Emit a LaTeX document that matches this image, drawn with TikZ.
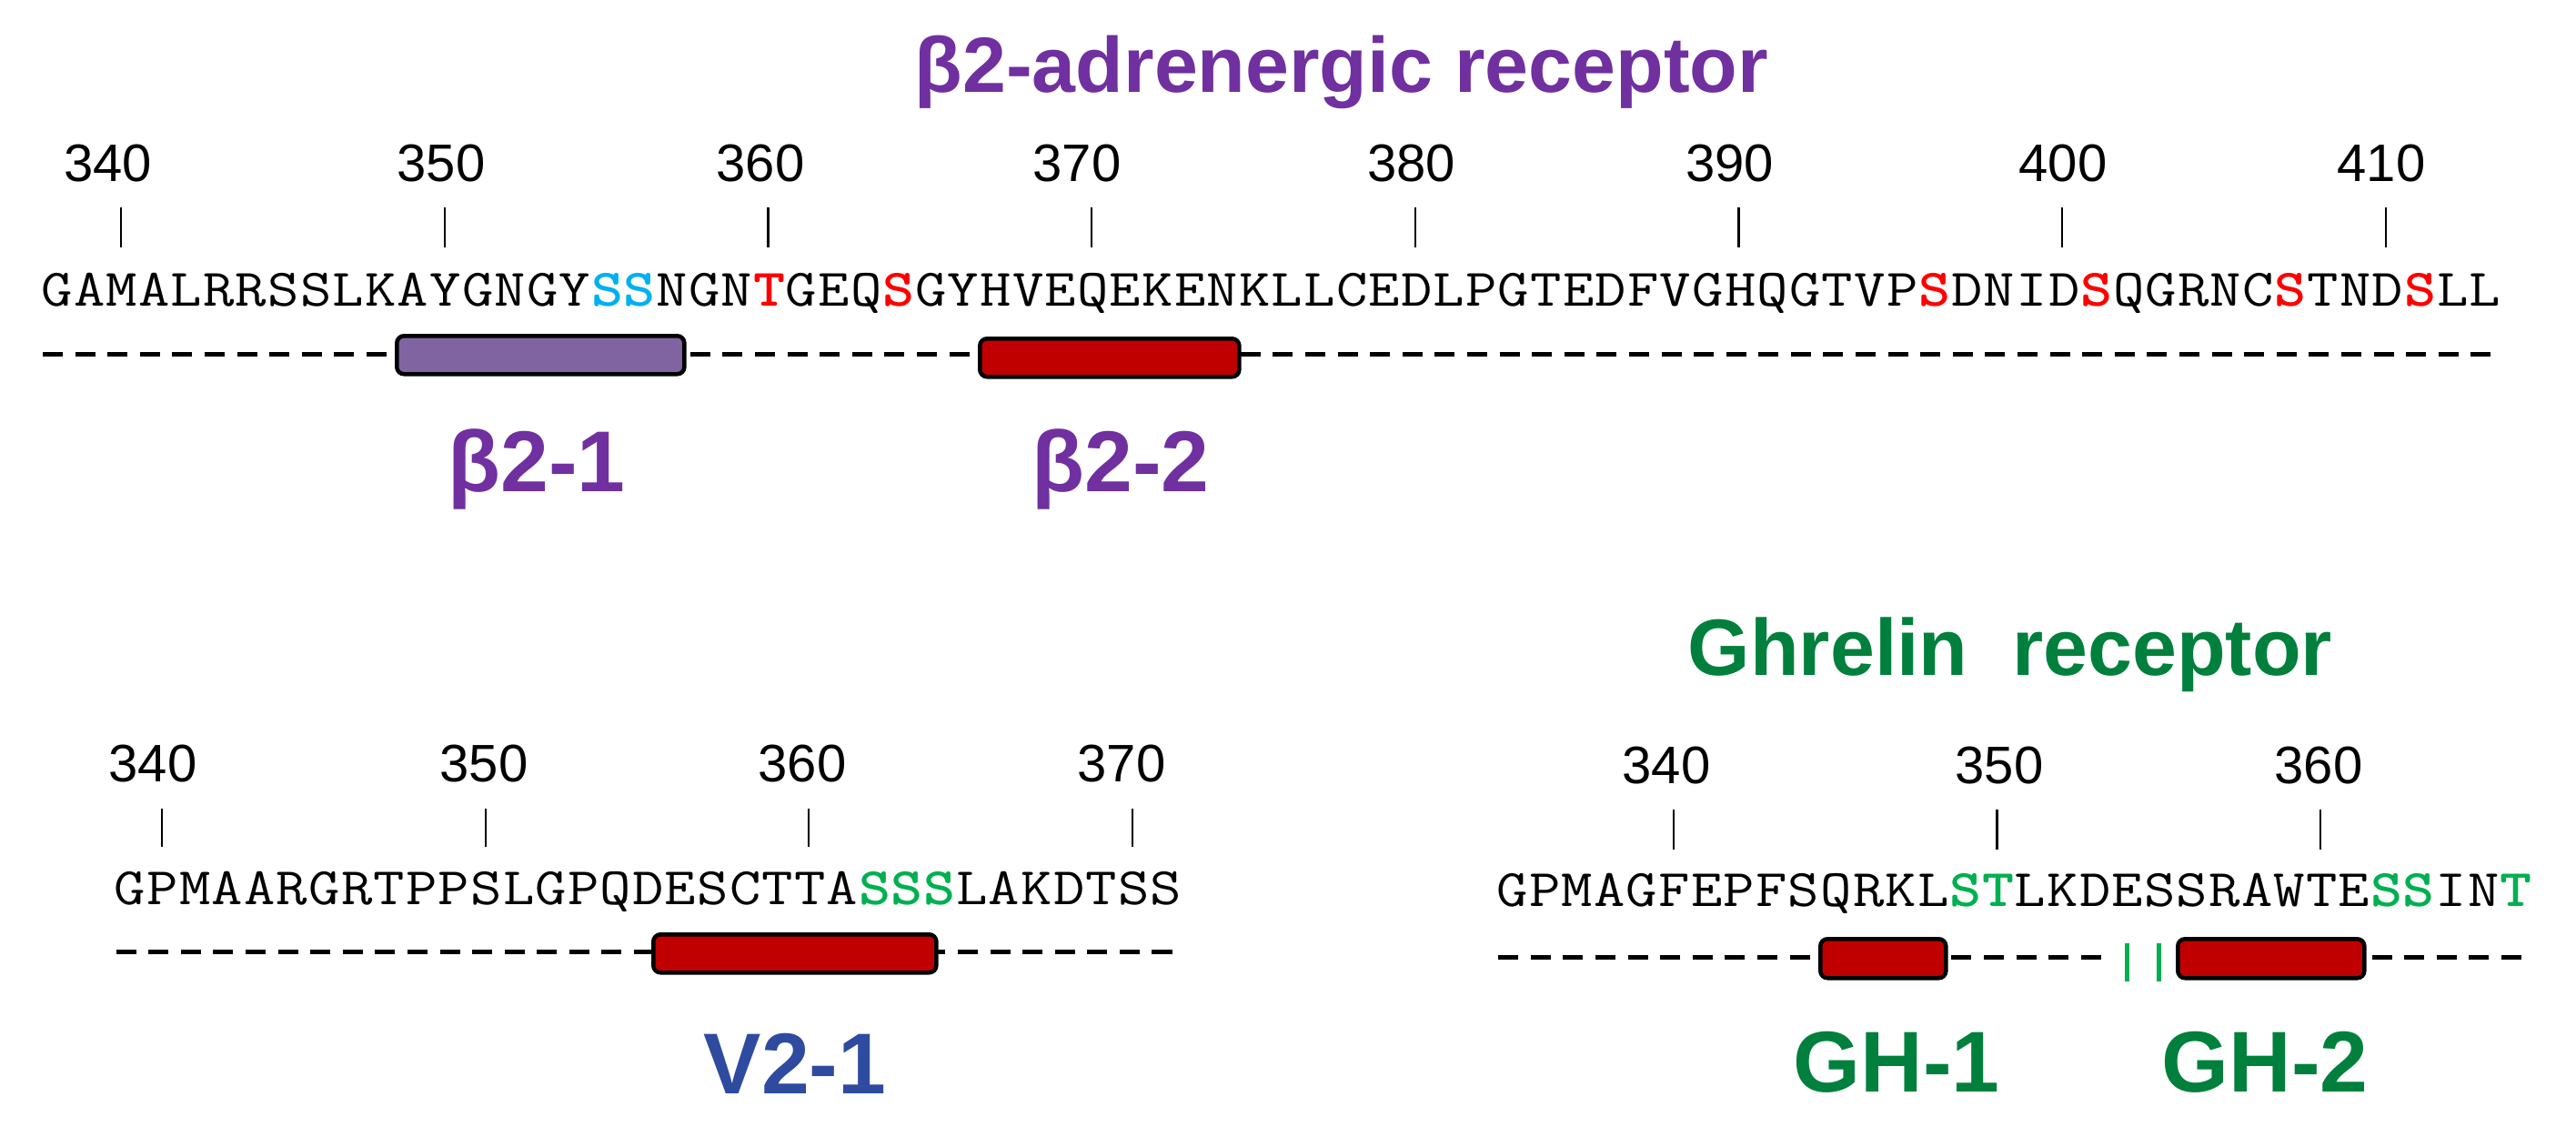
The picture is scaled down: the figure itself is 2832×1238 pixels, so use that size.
\documentclass[tikz,border=0pt]{standalone}
\usepackage{fontspec}
\setmainfont{Liberation Sans}
\usepackage{xcolor}
\usepackage{graphicx}
\definecolor{titlepurple}{HTML}{7030A0}
\definecolor{boxpurple}{HTML}{8064A2}
\definecolor{boxred}{HTML}{C00000}
\definecolor{seqred}{HTML}{FF0000}
\definecolor{seqcyan}{HTML}{00B0F0}
\definecolor{seqgreen}{HTML}{00B050}
\definecolor{ghgreen}{HTML}{00803C}
\definecolor{vblue}{HTML}{2E4B9F}
\newlength\cw
\setlength\cw{0.3557cm}
\def\seqrun#1{\seqstep#1\relax}
\def\seqstep#1{\ifx#1\relax\else\makebox[\cw]{\scalebox{1.15}[1]{#1}}\expandafter\seqstep\fi}
\newcommand\redS{\textcolor{seqred}{\bfseries S}}
\newcommand\redT{\textcolor{seqred}{\bfseries T}}
\newcommand\cyaS{\textcolor{seqcyan}{\bfseries S}}
\newcommand\grnS{\textcolor{seqgreen}{\bfseries S}}
\newcommand\grnT{\textcolor{seqgreen}{\bfseries T}}
\tikzset{
  seqtext/.style={inner sep=0pt, anchor=base west, font=\ttfamily\fontsize{16.5}{19}\selectfont},
  numlabel/.style={inner sep=0pt, anchor=base, font=\fontsize{16.5}{20}\selectfont},
  biglabel/.style={inner sep=0pt, anchor=base, font=\bfseries\fontsize{27}{32}\selectfont},
  titlelabel/.style={inner sep=0pt, anchor=base, font=\bfseries\fontsize{24.5}{30}\selectfont},
  tickline/.style={line width=0.022cm},
  dashline/.style={line width=0.05cm, dash pattern=on 0.22cm off 0.1357cm},
  domainbox/.style={draw=black, line width=0.045cm, rounded corners=0.08cm, inner sep=0pt, anchor=north west},
  gbar/.style={draw=seqgreen, line width=0.05cm}
}
\begin{document}
\begin{tikzpicture}[x=0.01cm,y=-0.01cm]
\useasboundingbox (0,0) rectangle (2832,1238);

% ---------- beta2-adrenergic receptor ----------
\node[titlelabel, text=titlepurple] (titleB) at (1475,101) {β2-adrenergic receptor};
\foreach \k/\lx/\lab in {0/118.6/340,1/485/350,2/836/360,3/1184/370,4/1551.5/380,5/1901.5/390,6/2268/400,7/2618/410}{
  \node[numlabel] (tb\k) at (\lx,199) {\lab};
  \draw[tickline] ({44.1+(2.5+10*\k)*35.57},228) -- ++(0,44);
}
\node[seqtext] (seqB) at (44.1,336) {\seqrun{GAMALRRSSLKAYGNGY\cyaS\cyaS NGN\redT GEQ\redS GYHVEQEKENKLLCEDLPGTEDFVGHQGTVP\redS DNID\redS QGRNC\redS TND\redS LL}};
\coordinate (dB1) at (47,389);
\coordinate (dB2) at (2742,389);
\draw[dashline] (dB1) -- (dB2);
\node[domainbox, fill=boxpurple, minimum width=3.16cm, minimum height=0.42cm] (boxB1) at (434,367) {};
\node[domainbox, fill=boxred, minimum width=2.85cm, minimum height=0.42cm] (boxB2) at (1075,370) {};
\node[biglabel, text=titlepurple] (labB1) at (590,540) {β2-1};
\node[biglabel, text=titlepurple] (labB2) at (1232,540) {β2-2};

% ---------- V2 receptor ----------
\foreach \k/\lx/\lab in {0/168/340,1/532/350,2/882/360,3/1233/370}{
  \node[numlabel] (tv\k) at (\lx,859) {\lab};
  \draw[tickline] ({124.6+(1.5+10*\k)*35.57},889) -- ++(0,42);
}
\node[seqtext] (seqV) at (124.6,994) {\seqrun{GPMAARGRTPPSLGPQDESCTTA\grnS\grnS\grnS LAKDTSS}};
\coordinate (dV1) at (127.6,1046);
\coordinate (dV2) at (1292,1046);
\draw[dashline] (dV1) -- (dV2);
\node[domainbox, fill=boxred, minimum width=3.11cm, minimum height=0.42cm] (boxV1) at (716,1025) {};
\node[biglabel, text=vblue] (labV1) at (874,1202) {V2-1};

% ---------- Ghrelin receptor ----------
\node[titlelabel, text=ghgreen, font=\bfseries\fontsize{25}{30}\selectfont] (titleG) at (2210,742) {Ghrelin\ \ receptor};
\foreach \k/\lx/\lab in {0/1832/340,1/2198/350,2/2549/360}{
  \node[numlabel] (tg\k) at (\lx,861) {\lab};
  \draw[tickline] ({1644.2+(5.5+10*\k)*35.57},890) -- ++(0,44);
}
\node[seqtext] (seqG) at (1644.2,996) {\seqrun{GPMAGFEPFSQRKL\grnS\grnT LKDESSRAWTE\grnS\grnS IN\grnT}};
\coordinate (dG1) at (1647.2,1052);
\coordinate (dG2) at (2320,1052);
\coordinate (dG3) at (2607.6,1052);
\coordinate (dG4) at (2778,1052);
\draw[dashline] (dG1) -- (dG2);
\draw[dashline] (dG3) -- (dG4);
\coordinate (gb1t) at (2338,1037);
\coordinate (gb1b) at (2338,1079);
\coordinate (gb2t) at (2373,1037);
\coordinate (gb2b) at (2373,1079);
\draw[gbar] (gb1t) -- (gb1b);
\draw[gbar] (gb2t) -- (gb2b);
\node[domainbox, fill=boxred, minimum width=1.38cm, minimum height=0.43cm] (boxG1) at (1999,1030) {};
\node[domainbox, fill=boxred, minimum width=2.05cm, minimum height=0.43cm] (boxG2) at (2392,1030) {};
\node[biglabel, text=ghgreen] (labG1) at (2085,1200) {GH-1};
\node[biglabel, text=ghgreen] (labG2) at (2490,1200) {GH-2};
\end{tikzpicture}
\end{document}
